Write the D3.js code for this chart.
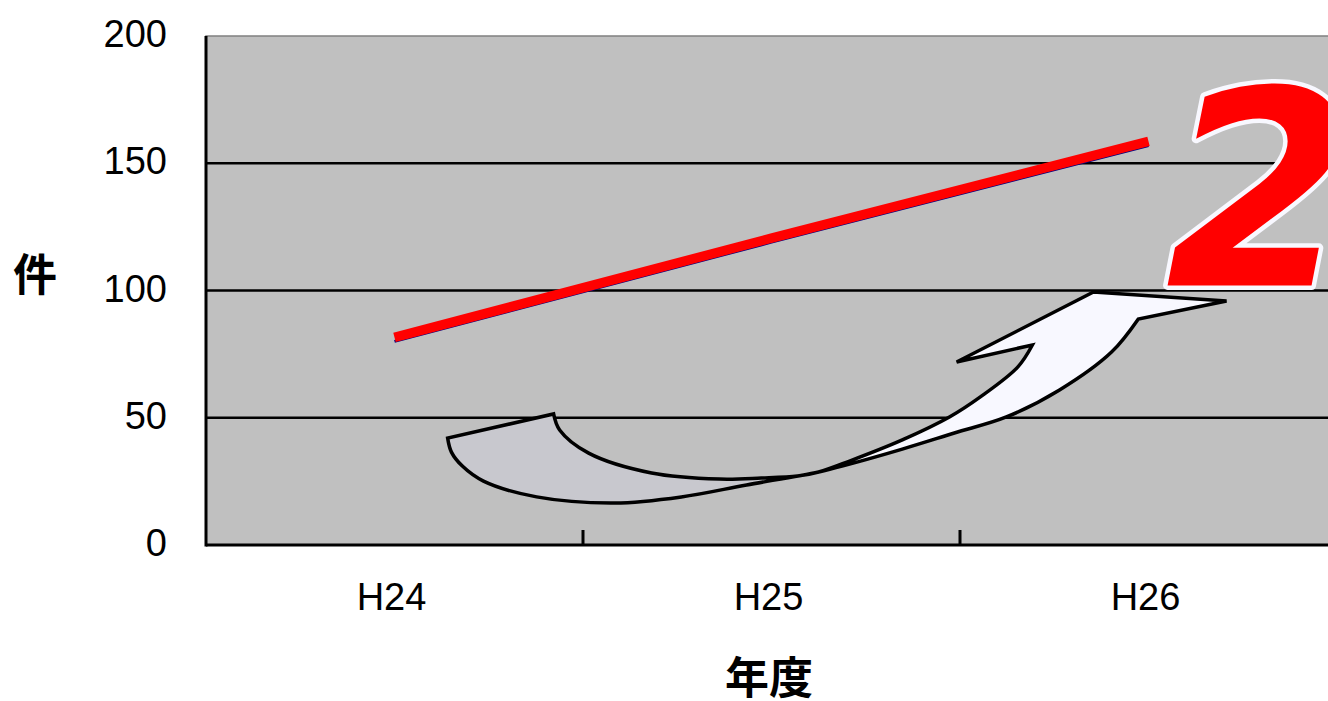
<!DOCTYPE html>
<html><head><meta charset="utf-8">
<script src="https://cdn.jsdelivr.net/npm/d3@7"></script>
<style>html,body{margin:0;padding:0;background:#fff;overflow:hidden}</style>
</head><body>
<script>
const categories = ["H24", "H25", "H26"];
const values = [80, 119, 157];
const yTicks = [0, 50, 100, 150, 200];
const yTitle = "件";
const xTitle = "年度";
const badgeText = "2";
// arrow annotation outline, in chart units [category index, value]
const arrowOuter = [[0.141,42.0],[0.151,36.5],[0.180,31.0],[0.236,25.1],[0.377,18.9],[0.584,16.5],[0.761,18.9],[0.934,23.6],[1.125,28.7],[1.207,31.8],[1.347,37.7],[1.485,44.0],[1.623,50.3],[1.764,60.9],[1.902,75.8],[1.973,88.8]];
const arrowHead = [[2.207,95.9],[1.854,99.4],[1.491,71.9],[1.692,78.6]];
const arrowInner = [[1.692,78.6],[1.653,69.9],[1.554,58.2],[1.472,50.3],[1.347,41.3],[1.207,33.0],[1.125,28.7],[1.069,27.1],[0.973,26.3],[0.862,25.9],[0.682,28.3],[0.515,36.1],[0.438,45.2],[0.422,51.5]];

(function () {
const W = 1328, H = 701;
const svg = d3.select("body").append("svg").attr("width", W).attr("height", H);
const pLeft = 206, pTop = 36, pBottom = 545, step = 377;
const x = d3.scaleBand().domain(categories).range([pLeft, pLeft + step * categories.length]).padding(0);
const y = d3.scaleLinear().domain([0, 200]).range([pBottom, pTop]);
const xc = c => x(c) + x.bandwidth() / 2;
const xu = u => xc(categories[0]) + u * step;
const pRight = x.range()[1];

svg.append("rect").attr("x", pLeft).attr("y", pTop).attr("width", pRight - pLeft).attr("height", pBottom - pTop)
  .attr("fill", "#c0c0c0").attr("stroke", "#808080").attr("stroke-width", 1.5);

svg.append("g").selectAll("line").data(yTicks.filter(t => t > 0 && t < 200)).join("line")
  .attr("x1", pLeft).attr("x2", pRight).attr("y1", d => y(d)).attr("y2", d => y(d))
  .attr("stroke", "#000").attr("stroke-width", 2.5);

svg.append("g").selectAll("line").data(categories.slice(1)).join("line")
  .attr("x1", d => x(d)).attr("x2", d => x(d)).attr("y1", pBottom).attr("y2", pBottom - 15)
  .attr("stroke", "#000").attr("stroke-width", 3);

svg.append("line").attr("x1", pLeft).attr("x2", pRight).attr("y1", pBottom).attr("y2", pBottom).attr("stroke", "#000").attr("stroke-width", 3);
svg.append("line").attr("x1", pLeft).attr("x2", pLeft).attr("y1", pTop).attr("y2", pBottom + 1.5).attr("stroke", "#000").attr("stroke-width", 3);

svg.append("g").selectAll("text").data(yTicks).join("text")
  .attr("x", 167).attr("y", d => y(d) - 2).attr("text-anchor", "end").attr("dominant-baseline", "central")
  .attr("font-family", "Liberation Sans, Arial, sans-serif").attr("font-size", 38).attr("fill", "#000")
  .text(d => d);

svg.append("g").selectAll("text").data(categories).join("text")
  .attr("x", d => xc(d) - 3).attr("y", 597).attr("text-anchor", "middle").attr("dominant-baseline", "central")
  .attr("font-family", "Liberation Sans, Arial, sans-serif").attr("font-size", 38).attr("fill", "#000")
  .text(d => d);

svg.append("text").attr("x", 35).attr("y", 272).attr("text-anchor", "middle").attr("dominant-baseline", "central")
  .attr("font-family", "Noto Sans CJK JP, sans-serif").attr("font-weight", "bold").attr("font-size", 44).text(yTitle);
svg.append("text").attr("x", 769).attr("y", 675).attr("text-anchor", "middle").attr("dominant-baseline", "central")
  .attr("font-family", "Noto Sans CJK JP, sans-serif").attr("font-weight", "bold").attr("font-size", 44).text(xTitle);

const line = d3.line().x((d, i) => xc(categories[i])).y(d => y(d));
svg.append("path").datum(values).attr("d", line).attr("fill", "none").attr("stroke", "#000080").attr("stroke-width", 3);
const redLine = d3.line().x((d, i) => xc(categories[i])).y(d => y(d) - 4);
svg.append("path").datum(values).attr("d", redLine).attr("fill", "none").attr("stroke", "#ff0000").attr("stroke-width", 9.5);

const defs = svg.append("defs");
const grad = defs.append("linearGradient").attr("id", "ag").attr("gradientUnits", "userSpaceOnUse")
  .attr("x1", xu(0)).attr("x2", xu(2.3)).attr("y1", 0).attr("y2", 0);
const split = (xu(1.125) - xu(0)) / (xu(2.3) - xu(0));
grad.append("stop").attr("offset", split).attr("stop-color", "#c8c8ce");
grad.append("stop").attr("offset", split).attr("stop-color", "#f8f8ff");
const cl = d3.line().x(d => xu(d[0])).y(d => y(d[1])).curve(d3.curveCatmullRom.alpha(0.5));
const pl = d3.line().x(d => xu(d[0])).y(d => y(d[1]));
const pathD = cl(arrowOuter) + pl(arrowHead).replace(/^M/, "L") + cl(arrowInner).replace(/^M/, "L") + "Z";
svg.append("path").attr("d", pathD).attr("fill", "url(#ag)").attr("stroke", "#000").attr("stroke-width", 3.5)
  .attr("stroke-linejoin", "miter");

svg.append("text").attr("x", xu(2.045)).attr("y", y(102))
  .attr("font-family", "DejaVu Sans, sans-serif").attr("font-weight", "bold").attr("font-style", "italic")
  .attr("font-size", 272).attr("fill", "#ff0000").attr("stroke", "#f8f8ff").attr("stroke-width", 9)
  .attr("paint-order", "stroke").attr("stroke-linejoin", "round").text(badgeText);
})();
</script>
</body></html>
